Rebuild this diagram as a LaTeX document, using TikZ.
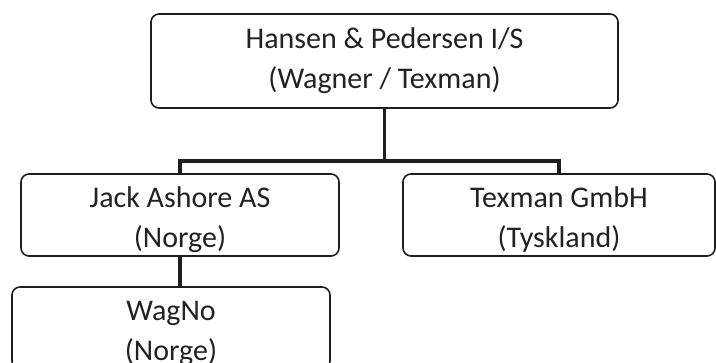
\documentclass[tikz,border=0pt]{standalone}
\usepackage{fontspec}
\setmainfont{Carlito}
\usepackage{xcolor}
\usepackage{tikz}
\definecolor{linecolor}{HTML}{1E1E1E}
\definecolor{textcolor}{HTML}{222222}

\begin{document}
\begin{tikzpicture}[x=1pt, y=-1pt,
  firm/.style={draw=linecolor, line width=1.6pt, rounded corners=8pt, rectangle, align=center, text=textcolor, inner sep=0pt, font=\fontsize{30pt}{40pt}\selectfont},
  lowfirm/.style={firm, minimum width=318pt, minimum height=82pt, text height=72pt, text depth=6pt},
  link/.style={draw=linecolor, line width=3.8pt}]%
\useasboundingbox (0,0) rectangle (716,363);%
\node[firm, minimum width=467pt, minimum height=94pt] (hp) at (384.5, 61) {Hansen \& Pedersen I/S\\(Wagner / Texman)};%
\node[lowfirm] (jack) at (180, 215) {Jack Ashore AS\\(Norge)};%
\node[lowfirm, minimum width=312pt] (texman) at (559, 215) {Texman GmbH\\(Tyskland)};%
\node[lowfirm] (wagno) at (171, 328) {WagNo\\(Norge)};%
\draw[link] (hp.south) -- ++(0, 52) coordinate (fork);%
\draw[link] (fork) -| (jack.north);%
\draw[link] (fork) -| (texman.north);%
\draw[link] (jack.south) -- (jack.south |- wagno.north);%
\end{tikzpicture}
\end{document}
